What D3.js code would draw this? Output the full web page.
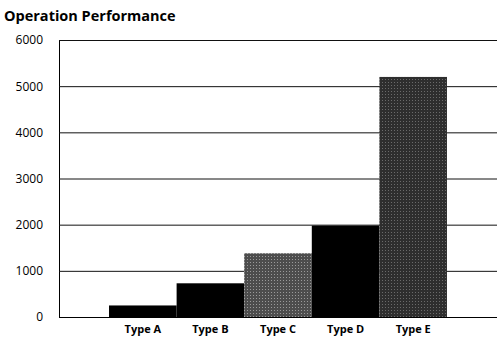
<!DOCTYPE html>
<html><head><meta charset="utf-8">
<script src="https://cdn.jsdelivr.net/npm/d3@7"></script>
<style>body{margin:0;background:#fff}svg{display:block}</style>
</head><body>
<svg id="c" width="499" height="337"></svg>
<script>
const categories = ["Type A","Type B","Type C","Type D","Type E"];
const values = [250, 730, 1380, 1980, 5200];
const fills = ["#000","#000","#4d4d4d","#000","#2e2e2e"];
const yTicks = [0,1000,2000,3000,4000,5000,6000];
const title = "Operation Performance";

(function(){
const svg = d3.select("#c");
const mL = 59, mR = 497, mT = 40, mB = 317;
const x = d3.scaleBand().domain(categories).range([mL, mR]).paddingInner(0).paddingOuter(0.74);
const y = d3.scaleLinear().domain([0,6000]).range([mB, mT]);

const defs = svg.append("defs");
fills.forEach((f,i)=>{
  if (f === "#000") return;
  const p = defs.append("pattern").attr("id","pat"+i).attr("width",3).attr("height",3).attr("patternUnits","userSpaceOnUse");
  p.append("rect").attr("width",3).attr("height",3).attr("fill",f);
  p.append("rect").attr("x",1).attr("y",1).attr("width",1).attr("height",1).attr("fill", i===2 ? "#9a9a9a" : "#6a6a6a");
});

svg.append("text").attr("x",4).attr("y",21).text(title)
  .attr("font-family","'Open Sans', sans-serif").attr("font-weight","bold").attr("font-size",14.5).attr("fill","#000");

const yAxis = svg.append("g").attr("transform",`translate(${mL},0)`)
  .call(d3.axisLeft(y).tickValues(yTicks).tickSize(-(mR-mL)).tickFormat(d3.format("d")));
yAxis.select(".domain").attr("stroke","#000");
yAxis.selectAll(".tick line").attr("stroke","#111").attr("stroke-width",1);
yAxis.selectAll(".tick text").attr("x",-16).attr("font-family","'Open Sans', sans-serif").attr("font-size",12).attr("fill","#000");

svg.append("g").selectAll("rect").data(values).join("rect")
  .attr("x",(d,i)=>x(categories[i])).attr("width",x.bandwidth())
  .attr("y",d=>y(d)).attr("height",d=>mB-y(d))
  .attr("fill",(d,i)=>fills[i]==="#000"?"#000":`url(#pat${i})`);

svg.append("line").attr("x1",mL).attr("x2",mR).attr("y1",mB+0.5).attr("y2",mB+0.5).attr("stroke","#000");

const xAxis = svg.append("g").attr("transform",`translate(0,${mB})`)
  .call(d3.axisBottom(x).tickSize(0));
xAxis.select(".domain").remove();
xAxis.selectAll(".tick text").attr("dy","0").attr("y",16).attr("font-family","'Open Sans', sans-serif")
  .attr("font-weight","bold").attr("font-size",11).attr("fill","#000");
})();
</script>
</body></html>
